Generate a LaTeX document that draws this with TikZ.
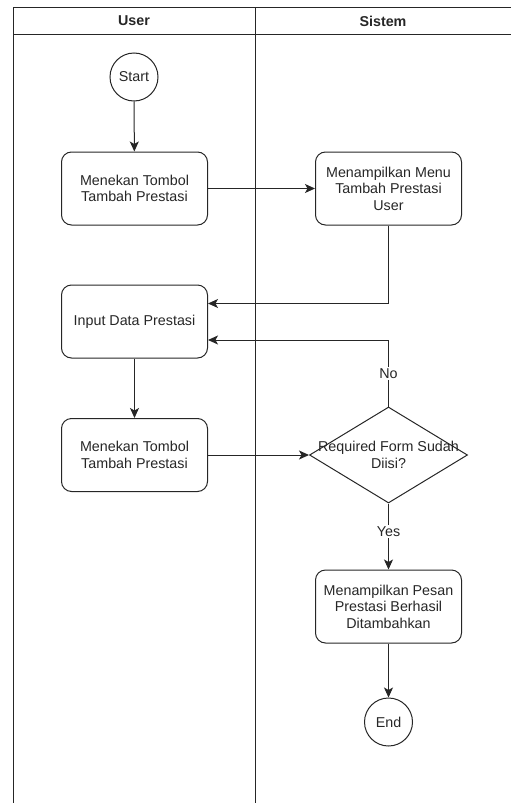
\documentclass[tikz,border=0pt]{standalone}
\usepackage{fontspec}
\setmainfont{Liberation Sans}
\usetikzlibrary{arrows.meta,shapes.geometric}
\begin{document}
\begin{tikzpicture}[x=1pt,y=-1pt,
  every node/.style={font=\fontsize{14.3}{16.5}\selectfont, text=black!85},
  line/.style={draw=black!85, line width=1pt},
  arr/.style={line, -{Stealth[length=10pt,width=9pt,inset=2.5pt]}},
  proc/.style={line, rounded corners=10pt, minimum width=146pt, minimum height=73pt, inner sep=0pt, align=center},
  term/.style={line, circle, minimum size=48pt, inner sep=0pt},
  lbl/.style={fill=white, inner sep=1.5pt},
  hdr/.style={font=\bfseries\fontsize{14.3}{16.5}\selectfont}]
\useasboundingbox (0,0) rectangle (511,803);
\begin{scope}
\clip (0,0) rectangle (511,803);
% pool
\draw[line] (13,820) -- (13,7) -- (530,7);
\draw[line] (13,34) -- (530,34);
\draw[line] (255,7) -- (255,820);
\end{scope}
\node[hdr] (hUser) at (134,21) {User};
\node[hdr] (hSis) at (383,21) {Sistem};
% nodes
\node[term] (start) at (134,77) {Start};
\node[proc] (b1) at (134.5,188.5) {Menekan Tombol\\Tambah Prestasi};
\node[proc] (b2) at (388.5,188.5) {Menampilkan Menu\\Tambah Prestasi\\User};
\node[proc] (b3) at (134.5,321.5) {Input Data Prestasi};
\node[proc] (b4) at (134.5,455) {Menekan Tombol\\Tambah Prestasi};
\node[line, diamond, minimum width=158pt, minimum height=96pt, inner sep=0pt] (d) at (388.5,455) {};
\node[align=center] (dt) at (388.5,455) {Required Form Sudah\\Diisi?};
\node[proc] (b5) at (388.5,606.5) {Menampilkan Pesan\\Prestasi Berhasil\\Ditambahkan};
\node[term] (end) at (388.5,722) {End};
% connectors
\draw[arr] (start) -- (b1);
\draw[arr] (b1) -- (b2);
\draw[arr] (b2.south) |- ([yshift=18pt]b3.east);
\draw[arr] (d.north) |- ([yshift=-18.5pt]b3.east) node[pos=0.25, lbl] (no) {No};
\draw[arr] (b3) -- (b4);
\draw[arr] (b4) -- (d.west);
\draw[arr] (d.south) -- (b5.north) node[pos=0.42, lbl] (yes) {Yes};
\draw[arr] (b5) -- (end);
\end{tikzpicture}
\end{document}
